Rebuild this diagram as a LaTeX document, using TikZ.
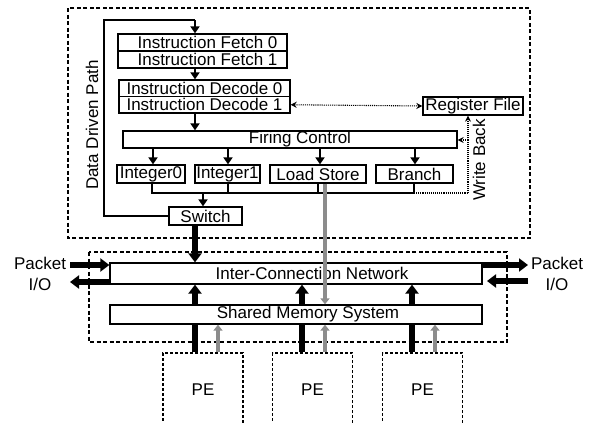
\documentclass[tikz,border=0pt]{standalone}
\usepackage{fontspec}
\setmainfont{Liberation Sans}
\usetikzlibrary{arrows.meta}
\begin{document}
\begin{tikzpicture}[x=1pt,y=-1pt,
  font=\fontsize{17}{19}\selectfont,
  blk/.style={draw, line width=1.3pt, inner sep=0pt},
  pebox/.style={draw, dashed, dash pattern=on 3pt off 2pt, line width=1.1pt, inner sep=0pt,
                minimum width=80pt, minimum height=90pt},
  frame/.style={dashed, dash pattern=on 4pt off 2.5pt, line width=1.4pt},
  flow/.style={line width=1.8pt, -{Triangle[length=7pt,width=9pt]}},
  bus/.style={line width=2.2pt},
  fat/.style={line width=5.5pt, -{Triangle[length=9pt,width=13pt]}},
  fatline/.style={line width=5.5pt},
  memline/.style={line width=3.6pt, draw=black!45, -{Triangle[length=6pt,width=9pt,fill=black!45]}},
  dots/.style={densely dotted, line width=1.1pt},
  dotarrow/.style={dots, -{Stealth[length=6pt,width=6pt]}},
]
\useasboundingbox (0,0) rectangle (590,423);

% processing element frame and pipeline stages
\draw[frame] (68,8) rectangle (530,238);
\node[blk, minimum width=169pt, minimum height=17pt] (if0) at (202.5,42.5) {\hspace*{10pt}Instruction Fetch 0};
\node[blk, minimum width=169pt, minimum height=17pt] (if1) at (202.5,59.5) {\hspace*{10pt}Instruction Fetch 1};
\node[blk, minimum width=171pt, minimum height=16.5pt] (id0) at (204.5,88.25) {Instruction Decode 0};
\node[blk, minimum width=171pt, minimum height=16.5pt] (id1) at (204.5,104.75) {Instruction Decode 1};
\node[blk, minimum width=100pt, minimum height=18pt] (rf) at (473,106) {Register File};
\node[blk, minimum width=334pt, minimum height=17pt] (fc) at (290,139.5) {\hspace*{20pt}Firing Control};
\node[blk, minimum width=68pt, minimum height=18pt] (int0) at (151,174) {Integer0};
\node[blk, minimum width=65pt, minimum height=18pt] (int1) at (227.5,174) {Integer1};
\node[blk, minimum width=96pt, minimum height=18pt] (ls) at (318,174) {Load Store};
\node[blk, minimum width=77pt, minimum height=18pt] (br) at (414.5,174) {Branch};
\node[blk, minimum width=73pt, minimum height=18pt] (sw) at (205.5,216) {Switch};

% stage to stage flow
\draw[flow] (if1.south -| 195,0) -- (id0.north -| 195,0);
\draw[flow] (id1.south -| 195,0) -- (fc.north -| 195,0);
\foreach \u/\x in {int0/153, int1/228, ls/320, br/415}
  \draw[flow] (fc.south -| \x,0) -- (\u.north -| \x,0);

% result bus
\coordinate (busL) at (152,193);
\coordinate (busR) at (414,193);
\coordinate (wb) at (468,193);
\draw[bus] (int0.south -| 152,0) -- (busL) -- (busR) -- (br.south -| 414,0);
\draw[bus] (int1.south -| 228,0) -- (228,193);
\draw[bus] (ls.south -| 318,0) -- (318,193);
\draw[flow] (203,193) -- (sw.north -| 203,0);

% data driven path back to fetch
\coordinate (dd1) at (104,216);
\coordinate (dd2) at (104,20);
\coordinate (dd3) at (195,20);
\draw[line width=1.1pt] (sw.west) -- (dd1) -- (dd2) -- (dd3);
\draw[flow] (dd3) -- (if0.north -| 195,0);
\node[rotate=90] (ddp) at (92,125) {Data Driven Path};

% register file access and write back
\draw[dots, {Stealth[length=6pt,width=6pt]}-{Stealth[length=6pt,width=6pt]}] (id1.east) -- (rf.west);
\draw[dots] (busR) -- (wb);
\draw[dotarrow] (wb) -- (rf.south -| wb);
\draw[dotarrow] (468,140) -- (fc.east |- 0,140);
\node[rotate=90] (wbl) at (479,160) {Write Back};

% network frame
\draw[frame] (89,252) rectangle (507,342);
\node[blk, minimum width=372pt, minimum height=21pt] (icn) at (296,273.5) {\hspace*{32pt}Inter-Connection Network};
\node[blk, minimum width=372pt, minimum height=19pt] (sm) at (296,314.5) {\hspace*{24pt}Shared Memory System};

% switch output and load/store memory access
\draw[fat] (sw.south -| 195,0) -- (icn.north -| 195,0);
\draw[memline] (ls.south -| 325,0) -- (sm.north -| 325,0);
\foreach \x in {195,302,412}
  \draw[fat] (sm.north -| \x,0) -- (icn.south -| \x,0);

% packet input/output
\coordinate (pl1) at (70,265);
\coordinate (pl2) at (70,282);
\coordinate (pr1) at (528,265);
\coordinate (pr2) at (528,281);
\draw[fat] (pl1) -- (icn.west |- pl1);
\draw[fat] (icn.west |- pl2) -- (pl2);
\draw[fat] (icn.east |- pr1) -- (pr1);
\draw[fat] (pr2) -- (487,281);
\node (pktl) at (40,263) {Packet};
\node (iol) at (40,284) {I/O};
\node (pktr) at (557,263) {Packet};
\node (ior) at (557,284) {I/O};

% processing elements
\node[pebox] (pe1) at (203,398) {\raisebox{16pt}{PE}};
\node[pebox] (pe2) at (312.5,398) {\raisebox{16pt}{PE}};
\node[pebox] (pe3) at (422.5,398) {\raisebox{16pt}{PE}};
\foreach \p/\a/\b in {pe1/195/218, pe2/302/325, pe3/412/435} {
  \draw[fatline] (\p.north -| \a,0) -- (sm.south -| \a,0);
  \draw[memline] (\p.north -| \b,0) -- (sm.south -| \b,0);
}
\end{tikzpicture}
\end{document}
